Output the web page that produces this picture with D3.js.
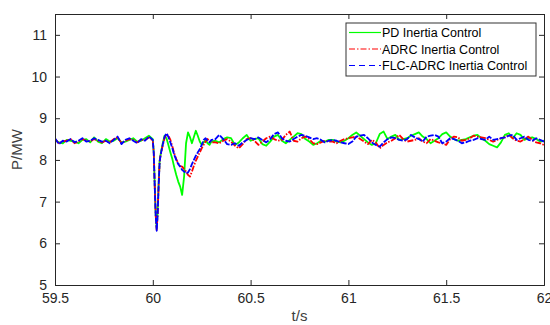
<!DOCTYPE html>
<html>
<head>
<meta charset="utf-8">
<script src="https://cdn.jsdelivr.net/npm/d3@7"></script>
<style>
  body { margin: 0; background: #fff; }
  svg { display: block; font-family: 'Liberation Sans', Arial, sans-serif; }
</style>
</head>
<body>
<svg></svg>
<script>
// time samples (s)
const time = [
  59.50, 59.52, 59.54, 59.56, 59.58, 59.60, 59.62, 59.64, 59.66, 59.68,
  59.70, 59.72, 59.74, 59.76, 59.78, 59.80, 59.82, 59.84, 59.86, 59.88,
  59.90, 59.92, 59.94, 59.96, 59.98,
  60.000, 60.005, 60.010, 60.015, 60.020, 60.025, 60.030, 60.035, 60.040,
  60.05, 60.06, 60.07, 60.08, 60.09, 60.10, 60.11, 60.12, 60.13, 60.14,
  60.15, 60.16, 60.17, 60.18, 60.19, 60.20, 60.21, 60.22, 60.23, 60.24,
  60.25, 60.26, 60.27, 60.28, 60.29, 60.30,
  60.32, 60.34, 60.36, 60.38, 60.40, 60.42, 60.44, 60.46, 60.48, 60.50,
  60.52, 60.54, 60.56, 60.58, 60.60, 60.62, 60.64, 60.66, 60.68, 60.70,
  60.72, 60.74, 60.76, 60.78, 60.80, 60.82, 60.84, 60.86, 60.88, 60.90,
  60.92, 60.94, 60.96, 60.98, 61.00, 61.02, 61.04, 61.06, 61.08, 61.10,
  61.12, 61.14, 61.16, 61.18, 61.20, 61.22, 61.24, 61.26, 61.28, 61.30,
  61.32, 61.34, 61.36, 61.38, 61.40, 61.42, 61.44, 61.46,
  61.48, 61.50, 61.52, 61.54, 61.56, 61.58, 61.60, 61.62, 61.64, 61.66,
  61.68, 61.70, 61.72, 61.74, 61.76, 61.78, 61.80, 61.82, 61.84, 61.86,
  61.88, 61.90, 61.92, 61.94, 61.96, 61.98, 62.00
];

// PD Inertia Control (MW)
const pdValues = [
  8.48, 8.42, 8.40, 8.48, 8.46, 8.44, 8.40, 8.48, 8.50, 8.42,
  8.54, 8.44, 8.40, 8.50, 8.44, 8.46, 8.52, 8.42, 8.44, 8.48,
  8.52, 8.44, 8.46, 8.52, 8.58,
  8.50, 8.18, 7.38, 6.68, 6.36, 6.78, 7.46, 7.98, 8.14,
  8.38, 8.58, 8.52, 8.35, 8.18, 8.02, 7.82, 7.64, 7.48, 7.36,
  7.16, 7.60, 8.40, 8.66, 8.55, 8.40, 8.55, 8.70, 8.58, 8.44,
  8.36, 8.42, 8.48, 8.40, 8.36, 8.44,
  8.46, 8.42, 8.50, 8.54, 8.52, 8.36, 8.42, 8.52, 8.60, 8.46,
  8.50, 8.52, 8.38, 8.34, 8.44, 8.56, 8.60, 8.46, 8.40, 8.48,
  8.56, 8.64, 8.62, 8.50, 8.44, 8.36, 8.40, 8.46, 8.44, 8.48,
  8.48, 8.44, 8.42, 8.46, 8.52, 8.60, 8.66, 8.58, 8.50, 8.42,
  8.36, 8.40, 8.62, 8.68, 8.50, 8.56, 8.60, 8.48, 8.50, 8.52,
  8.58, 8.62, 8.66, 8.56, 8.50, 8.40, 8.46, 8.52,
  8.62, 8.66, 8.56, 8.50, 8.46, 8.48, 8.50, 8.54, 8.58, 8.60,
  8.52, 8.46, 8.38, 8.34, 8.30, 8.42, 8.60, 8.64, 8.52, 8.64,
  8.60, 8.48, 8.52, 8.54, 8.50, 8.44, 8.46
];

// ADRC Inertia Control (MW)
const adrcValues = [
  8.50, 8.40, 8.44, 8.46, 8.50, 8.40, 8.44, 8.50, 8.46, 8.44,
  8.50, 8.46, 8.42, 8.46, 8.42, 8.50, 8.54, 8.40, 8.46, 8.50,
  8.48, 8.42, 8.48, 8.48, 8.54,
  8.46, 8.16, 7.36, 6.66, 6.32, 6.74, 7.42, 7.96, 8.12,
  8.33, 8.52, 8.62, 8.58, 8.48, 8.32, 8.15, 8.02, 7.92, 7.85,
  7.84, 7.78, 7.72, 7.64, 7.60, 7.72, 7.86, 7.98, 8.08, 8.18,
  8.28, 8.36, 8.44, 8.50, 8.46, 8.42,
  8.42, 8.40, 8.46, 8.50, 8.44, 8.34, 8.28, 8.38, 8.50, 8.52,
  8.46, 8.36, 8.44, 8.52, 8.56, 8.50, 8.46, 8.48, 8.60, 8.68,
  8.46, 8.44, 8.52, 8.56, 8.50, 8.40, 8.38, 8.42, 8.46, 8.44,
  8.44, 8.40, 8.46, 8.50, 8.52, 8.54, 8.56, 8.50, 8.44, 8.38,
  8.48, 8.42, 8.28, 8.36, 8.42, 8.46, 8.52, 8.60, 8.50, 8.44,
  8.46, 8.48, 8.52, 8.44, 8.40, 8.50, 8.46, 8.42,
  8.40, 8.36, 8.50, 8.56, 8.54, 8.46, 8.48, 8.52, 8.58, 8.56,
  8.54, 8.52, 8.48, 8.44, 8.48, 8.52, 8.54, 8.60, 8.52, 8.46,
  8.44, 8.50, 8.56, 8.48, 8.42, 8.40, 8.36
];

// FLC-ADRC Inertia Control (MW)
const flcValues = [
  8.52, 8.38, 8.46, 8.44, 8.50, 8.42, 8.46, 8.52, 8.44, 8.46,
  8.52, 8.48, 8.44, 8.46, 8.40, 8.48, 8.56, 8.38, 8.48, 8.52,
  8.46, 8.40, 8.50, 8.46, 8.56,
  8.48, 8.15, 7.35, 6.65, 6.30, 6.72, 7.40, 7.95, 8.12,
  8.35, 8.55, 8.64, 8.55, 8.42, 8.28, 8.12, 8.00, 7.90, 7.84,
  7.76, 7.72, 7.68, 7.70, 7.78, 7.90, 8.00, 8.10, 8.18, 8.26,
  8.36, 8.48, 8.52, 8.46, 8.42, 8.48,
  8.50, 8.60, 8.50, 8.38, 8.36, 8.40, 8.34, 8.42, 8.48, 8.52,
  8.50, 8.54, 8.48, 8.42, 8.50, 8.62, 8.66, 8.52, 8.46, 8.44,
  8.50, 8.56, 8.60, 8.58, 8.54, 8.50, 8.52, 8.48, 8.42, 8.46,
  8.48, 8.46, 8.42, 8.40, 8.38, 8.44, 8.56, 8.58, 8.60, 8.52,
  8.42, 8.36, 8.32, 8.42, 8.50, 8.54, 8.52, 8.48, 8.46, 8.50,
  8.60, 8.54, 8.50, 8.44, 8.56, 8.58, 8.60, 8.56,
  8.40, 8.44, 8.52, 8.50, 8.46, 8.40, 8.42, 8.46, 8.48, 8.52,
  8.50, 8.48, 8.56, 8.48, 8.50, 8.52, 8.54, 8.58, 8.60, 8.48,
  8.52, 8.56, 8.48, 8.46, 8.52, 8.48, 8.44
];

const seriesNames = ['PD Inertia Control', 'ADRC Inertia Control', 'FLC-ADRC Inertia Control'];
const xTicks = [59.5, 60, 60.5, 61, 61.5, 62];
const yTicks = [5, 6, 7, 8, 9, 10, 11];

const width = 550;
const height = 325;
const margin = { top: 14, right: 6, bottom: 40, left: 55 };
const graphWidth = width - margin.left - margin.right;
const graphHeight = height - margin.top - margin.bottom;

const styles = [
  { color: '#00ff00', dash: null, legendDash: null },
  { color: '#ff0000', dash: '6,1.5,1.5,1.5', legendDash: '6,2,1.5,2' },
  { color: '#0000ff', dash: '6,1.5', legendDash: '6,4' },
];

const svg = d3.select('svg').attr('width', width).attr('height', height);
const g = svg.append('g').attr('transform', `translate(${margin.left},${margin.top})`);

const x = d3.scaleLinear().domain([59.5, 62]).range([0, graphWidth]);
const y = d3.scaleLinear().domain([5, 11.5]).range([graphHeight, 0]);

// clip lines to plot box
svg.append('defs').append('clipPath').attr('id', 'clip')
  .append('rect').attr('width', graphWidth).attr('height', graphHeight);

const line = d3.line()
  .x((d) => x(d[0]))
  .y((d) => y(d[1]));

const allValues = [pdValues, adrcValues, flcValues];
const plot = g.append('g').attr('clip-path', 'url(#clip)');
allValues.forEach((vals, i) => {
  plot.append('path')
    .datum(time.map((t, j) => [t, vals[j]]))
    .attr('fill', 'none')
    .attr('stroke', styles[i].color)
    .attr('stroke-width', 1.8)
    .attr('stroke-linejoin', 'round')
    .attr('stroke-dasharray', styles[i].dash)
    .attr('d', line);
});

// axes, MATLAB style with inward ticks on all sides
const axisColor = '#262626';
const bottomAxis = g.append('g')
  .attr('transform', `translate(0,${graphHeight})`)
  .call(d3.axisBottom(x).tickValues(xTicks).tickSize(-5).tickPadding(8).tickFormat(d3.format('')));
const leftAxis = g.append('g')
  .call(d3.axisLeft(y).tickValues(yTicks).tickSize(-5).tickPadding(8).tickFormat(d3.format('d')));
const topAxis = g.append('g')
  .call(d3.axisTop(x).tickValues(xTicks).tickSize(-5).tickFormat(''));
const rightAxis = g.append('g')
  .attr('transform', `translate(${graphWidth},0)`)
  .call(d3.axisRight(y).tickValues(yTicks).tickSize(-5).tickFormat(''));

[bottomAxis, leftAxis, topAxis, rightAxis].forEach((a) => {
  a.select('.domain').attr('stroke', axisColor);
  a.selectAll('.tick line').attr('stroke', axisColor);
  a.selectAll('text').attr('fill', axisColor).attr('font-size', 14)
    .attr('font-family', "'Liberation Sans', Arial, sans-serif");
});

// axis labels
g.append('text')
  .attr('x', graphWidth / 2)
  .attr('y', graphHeight + 36)
  .attr('text-anchor', 'middle')
  .attr('font-size', 15)
  .attr('fill', '#404040')
  .text('t/s');

g.append('text')
  .attr('transform', `translate(${-33},${graphHeight / 2}) rotate(-90)`)
  .attr('text-anchor', 'middle')
  .attr('font-size', 15)
  .attr('fill', '#404040')
  .text('P/MW');

// legend
const legend = svg.append('g').attr('transform', 'translate(346,23)');
legend.append('rect')
  .attr('width', 190)
  .attr('height', 53)
  .attr('fill', '#fff')
  .attr('stroke', '#333')
  .attr('stroke-width', 1);

seriesNames.forEach((name, i) => {
  const row = legend.append('g').attr('transform', `translate(0,${9.5 + i * 16.5})`);
  row.append('line')
    .attr('x1', 3).attr('x2', 35)
    .attr('stroke', styles[i].color)
    .attr('stroke-width', 1.2)
    .attr('stroke-dasharray', styles[i].legendDash);
  row.append('text')
    .attr('x', 36)
    .attr('y', 4.5)
    .attr('font-size', 12.5)
    .attr('fill', '#000')
    .text(name);
});
</script>
</body>
</html>
